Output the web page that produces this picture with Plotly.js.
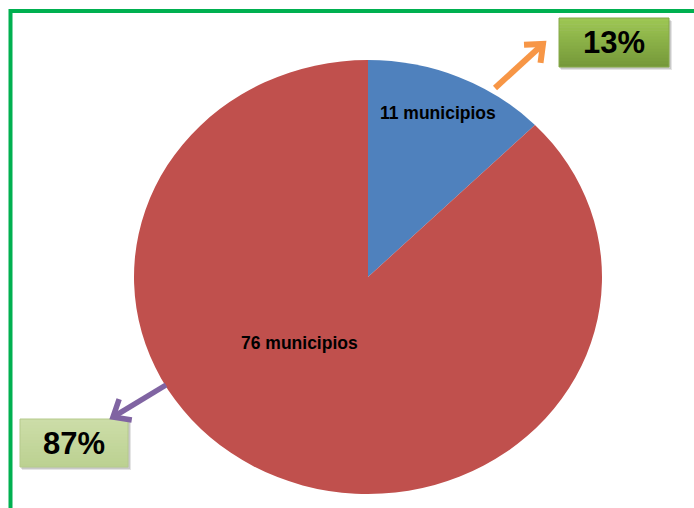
<!DOCTYPE html>
<html>
<head>
<meta charset="utf-8">
<script src="https://cdn.plot.ly/plotly-3.0.1.min.js"></script>
<style>
  html, body { margin: 0; padding: 0; background: #fff; }
  #chart { width: 694px; height: 508px; }
</style>
</head>
<body>
<div id="chart"></div>
<script>
// ---- data ----
const categories = ["11 municipios", "76 municipios"];
const municipios = [11, 76];
const percentLabels = ["13%", "87%"];
const sliceColors = ["#4F81BD", "#C0504D"];

const W = 694, H = 508;
const px = x => x / W;
const py = y => 1 - y / H;

const trace = {
  type: "pie",
  labels: categories,
  values: municipios,
  sort: false,
  direction: "clockwise",
  rotation: 0,
  marker: { colors: sliceColors, line: { width: 0 } },
  textinfo: "none",
  hoverinfo: "label+value+percent",
  domain: { x: [px(134), px(602)], y: [14 / H, 448 / H] },
  showlegend: false
};

function rect(x0, y0, x1, y1, fill, line) {
  return { type: "rect", xref: "paper", yref: "paper", layer: "above",
    x0: px(x0), x1: px(x1), y0: py(y0), y1: py(y1),
    fillcolor: fill, line: line || { width: 0 } };
}

// vertical gradient box with soft shadow
function gradBox(x0, y0, x1, y1, top, bottom, border) {
  const out = [
    rect(x0 + 2, y0 + 3, x1 + 3, y1 + 3, "rgba(0,0,0,0.10)"),
    rect(x0 + 1, y0 + 2, x1 + 2, y1 + 2, "rgba(0,0,0,0.12)")
  ];
  const n = 16;
  const hx = s => parseInt(s, 16);
  const c0 = [hx(top.slice(1,3)), hx(top.slice(3,5)), hx(top.slice(5,7))];
  const c1 = [hx(bottom.slice(1,3)), hx(bottom.slice(3,5)), hx(bottom.slice(5,7))];
  for (let i = 0; i < n; i++) {
    const t = i / (n - 1);
    const c = c0.map((v, k) => Math.round(v + (c1[k] - v) * t));
    const ya = y0 + (y1 - y0) * i / n;
    const yb = y0 + (y1 - y0) * (i + 1) / n + 0.6;
    out.push(rect(x0, ya, x1, Math.min(yb, y1), "rgb(" + c.join(",") + ")"));
  }
  out.push(rect(x0, y0, x1, y1, "rgba(0,0,0,0)", { color: border, width: 1 }));
  return out;
}

// arrow drawn as a shaft and an open chevron head
function arrow(tx, ty, hx_, hy, color, width, arm) {
  const dx = hx_ - tx, dy = hy - ty;
  const L = Math.hypot(dx, dy);
  const ux = dx / L, uy = dy / L;
  const ang = 40 * Math.PI / 180;
  const rot = (a) => [-ux * Math.cos(a) + uy * Math.sin(a), -uy * Math.cos(a) - ux * Math.sin(a)];
  const r1 = rot(ang), r2 = rot(-ang);
  const P = (x, y) => px(x) + "," + py(y);
  const a1 = [hx_ + r1[0] * arm, hy + r1[1] * arm];
  const a2 = [hx_ + r2[0] * arm, hy + r2[1] * arm];
  const sx = hx_ - ux * width * 0.6, sy = hy - uy * width * 0.6;
  return [
    { type: "path", xref: "paper", yref: "paper", layer: "above",
      path: "M" + P(tx, ty) + " L" + P(sx, sy), line: { color: color, width: width } },
    { type: "path", xref: "paper", yref: "paper", layer: "above",
      path: "M" + P(a1[0], a1[1]) + " L" + P(hx_, hy) + " L" + P(a2[0], a2[1]),
      line: { color: color, width: width } }
  ];
}

const shapes = [
  // green frame
  { type: "rect", xref: "paper", yref: "paper",
    x0: px(10.5), x1: px(720), y0: py(11), y1: py(540),
    line: { color: "#00B050", width: 4 }, fillcolor: "rgba(0,0,0,0)" }
].concat(
  gradBox(559, 18, 669, 67, "#9DC653", "#76993A", "#86A94A"),
  gradBox(20, 419, 128, 467, "#CCDDA8", "#BCD191", "#B5CA8C"),
  arrow(495, 88, 543, 44, "#F79646", 6, 19),
  arrow(166, 385, 113, 417, "#8064A2", 5.5, 19)
);

const labelFont = { family: "Arial, 'Liberation Sans', sans-serif", size: 17.5, color: "#000" };
const bigFont = { family: "Arial, 'Liberation Sans', sans-serif", size: 31, color: "#000" };

const annotations = [
  { xref: "paper", yref: "paper", x: px(438), y: py(113), text: "<b>" + categories[0] + "</b>",
    showarrow: false, font: labelFont, xanchor: "center", yanchor: "middle" },
  { xref: "paper", yref: "paper", x: px(299), y: py(343), text: "<b>" + categories[1] + "</b>",
    showarrow: false, font: labelFont, xanchor: "center", yanchor: "middle" },
  { xref: "paper", yref: "paper", x: px(614), y: py(43), text: "<b>" + percentLabels[0] + "</b>",
    showarrow: false, font: bigFont, xanchor: "center", yanchor: "middle" },
  { xref: "paper", yref: "paper", x: px(74), y: py(443), text: "<b>" + percentLabels[1] + "</b>",
    showarrow: false, font: bigFont, xanchor: "center", yanchor: "middle" }
];

const layout = {
  width: W, height: H,
  margin: { l: 0, r: 0, t: 0, b: 0 },
  paper_bgcolor: "#fff",
  plot_bgcolor: "#fff",
  showlegend: false,
  shapes: shapes,
  annotations: annotations
};

Plotly.newPlot("chart", [trace], layout, { displayModeBar: false, staticPlot: true }).then(gd => {
  // stretch the pie horizontally into the reference's slight ellipse
  const pl = gd.querySelector(".pielayer");
  if (pl) {
    pl.style.transformOrigin = "368px 277px";
    pl.style.transform = "scaleX(" + (468 / 434) + ")";
  }
});
</script>
</body>
</html>
